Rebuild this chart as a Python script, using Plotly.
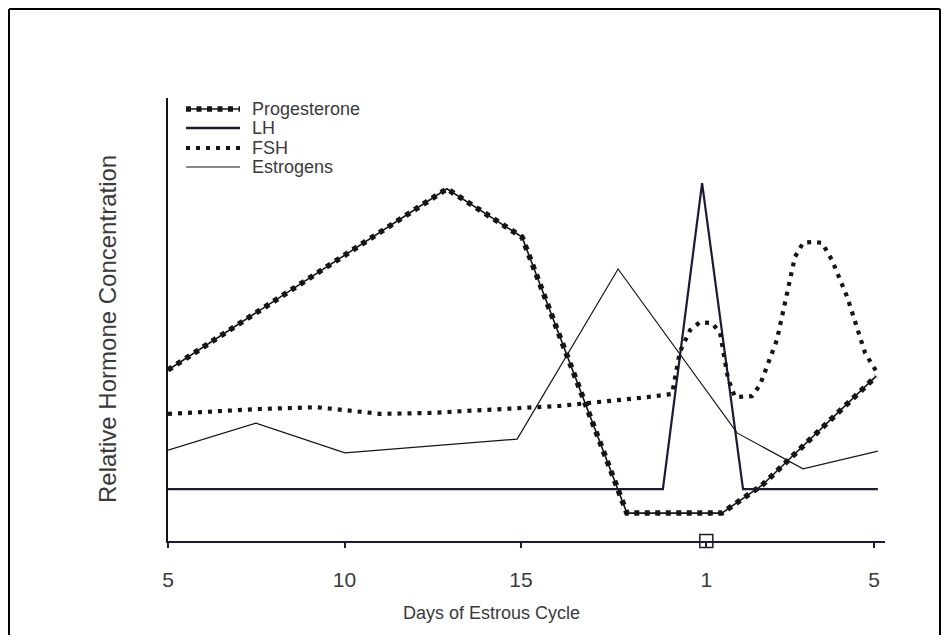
import plotly.graph_objects as go

# ---------------- data (x = position in days, 5 .. next cycle day 5) ----------------
tick_vals = [5, 10, 15, 20.25, 25]
tick_text = ["5", "10", "15", "1", "5"]

prog_x = [5.0, 12.90, 15.03, 18.0, 20.69, 21.83, 25.06]
prog_y = [38.6, 79.5, 68.6, 6.3, 6.3, 12.6, 37.2]

lh_x = [5.0, 19.02, 20.13, 21.29, 25.11]
lh_y = [11.7, 11.7, 80.8, 11.7, 11.7]

fsh_x = [5.0, 7.61, 9.22, 10.01, 11.01, 12.42, 14.12, 16.10, 18.37, 19.28, 19.50,
         19.79, 20.07, 20.41, 20.64, 20.86, 21.06, 21.54, 21.77, 22.25, 22.76,
         22.99, 23.24, 23.53, 23.81, 24.24, 24.75, 25.08]
fsh_y = [28.7, 29.8, 30.2, 29.6, 28.7, 28.9, 29.6, 30.5, 32.3, 33.2, 42.7,
         47.6, 49.4, 49.2, 47.0, 36.8, 32.5, 32.7, 35.2, 45.4, 64.1,
         67.3, 67.5, 67.3, 63.4, 55.1, 42.4, 38.1]

est_x = [5.0, 7.49, 10.01, 14.89, 17.75, 21.12, 22.99, 25.11]
est_y = [20.5, 26.6, 19.9, 23.0, 61.4, 24.4, 16.3, 20.3]

ovulation_x = [20.25]
ovulation_y = [0]

legend_names = ["Progesterone", "LH", "FSH", "Estrogens"]

# ---------------- layout geometry ----------------
# the page body has an 8px margin on every side; keep the figure inside the window
OFF = 8
W, H = 950 - 2 * OFF, 643 - 2 * OFF
PLOT_LEFT, PLOT_RIGHT, PLOT_TOP, PLOT_BOTTOM = 168, 885, 98, 541   # page pixels
L = PLOT_LEFT - OFF
T = PLOT_TOP - OFF
R = W - (PLOT_RIGHT - OFF)
B = H - (PLOT_BOTTOM - OFF)
PW, PH = W - L - R, H - T - B


def pxx(px):
    return (px - PLOT_LEFT) / PW


def pxy(py):
    return (PLOT_BOTTOM - py) / PH


INK = "#151515"
NAVY = "#1b1b33"
TXT = "#3a3a3a"
FONT = "Liberation Sans, Arial, sans-serif"

fig = go.Figure()

# Progesterone: thin line + heavy dots
fig.add_trace(go.Scatter(x=prog_x, y=prog_y, mode="lines",
                         line=dict(color=INK, width=1.6), showlegend=False,
                         hoverinfo="skip"))
fig.add_trace(go.Scatter(x=prog_x, y=prog_y, mode="lines", name="Progesterone",
                         line=dict(color=INK, width=5.5, dash="5px,5.5px"),
                         showlegend=False))
# LH
fig.add_trace(go.Scatter(x=lh_x, y=lh_y, mode="lines", name="LH",
                         line=dict(color=NAVY, width=2.2), showlegend=False))
# FSH
fig.add_trace(go.Scatter(x=fsh_x, y=fsh_y, mode="lines", name="FSH",
                         line=dict(color=INK, width=4.2, dash="4px,6px"),
                         showlegend=False))
# Estrogens
fig.add_trace(go.Scatter(x=est_x, y=est_y, mode="lines", name="Estrogens",
                         line=dict(color=INK, width=1.2), showlegend=False))
# ovulation box on axis
fig.add_trace(go.Scatter(x=ovulation_x, y=ovulation_y, mode="markers",
                         marker=dict(symbol="square-open", size=13,
                                     color=NAVY, line=dict(width=1.5, color=NAVY)),
                         cliponaxis=False, showlegend=False, hoverinfo="skip"))

shapes = []
annotations = []

# manual legend
leg_rows = [109, 128, 148, 167]
lx0, lx1, ltx = 186, 240, 250
for name, py in zip(legend_names, leg_rows):
    y = pxy(py)
    if name == "Progesterone":
        shapes.append(dict(type="line", xref="paper", yref="paper", x0=pxx(lx0), x1=pxx(lx1),
                           y0=y, y1=y, line=dict(color=INK, width=1.6)))
        shapes.append(dict(type="line", xref="paper", yref="paper", x0=pxx(lx0), x1=pxx(lx1),
                           y0=y, y1=y, line=dict(color=INK, width=5.5, dash="5px,5.5px")))
    elif name == "LH":
        shapes.append(dict(type="line", xref="paper", yref="paper", x0=pxx(lx0), x1=pxx(lx1),
                           y0=y, y1=y, line=dict(color=NAVY, width=2.4)))
    elif name == "FSH":
        shapes.append(dict(type="line", xref="paper", yref="paper", x0=pxx(lx0), x1=pxx(lx1),
                           y0=y, y1=y, line=dict(color=INK, width=4.2, dash="4px,6px")))
    else:
        shapes.append(dict(type="line", xref="paper", yref="paper", x0=pxx(lx0), x1=pxx(lx1),
                           y0=y, y1=y, line=dict(color=INK, width=1.2)))
    annotations.append(dict(text=name, xref="paper", yref="paper", x=pxx(ltx), y=y,
                            xanchor="left", yanchor="middle", showarrow=False,
                            font=dict(family=FONT, size=18, color=TXT)))

# outer frame of the scanned figure (kept inside the drawable page area)
fl, fr, ft, fb = OFF + 1, OFF + W - 2, OFF + 1, OFF + H + 20
for x0, y0, x1, y1 in [(fl, ft, fr, ft), (fl, ft, fl, fb), (fr, ft, fr, fb)]:
    shapes.append(dict(type="line", xref="paper", yref="paper",
                       x0=pxx(x0), y0=pxy(y0), x1=pxx(x1), y1=pxy(y1),
                       line=dict(color="black", width=2), layer="below"))

# axis titles
annotations.append(dict(text="Days of Estrous Cycle", xref="paper", yref="paper",
                        x=pxx(491), y=pxy(613), xanchor="center", yanchor="middle",
                        showarrow=False, font=dict(family=FONT, size=18, color=TXT)))
annotations.append(dict(text="Relative Hormone Concentration", xref="paper", yref="paper",
                        x=pxx(107), y=pxy(329), xanchor="center", yanchor="middle",
                        textangle=-90, showarrow=False,
                        font=dict(family=FONT, size=24, color=TXT)))

fig.update_layout(
    width=W, height=H,
    margin=dict(l=L, r=R, t=T, b=B),
    paper_bgcolor="white", plot_bgcolor="white",
    showlegend=False,
    shapes=shapes, annotations=annotations,
    xaxis=dict(range=[5, 5 + PW / 35.3], tickvals=tick_vals, ticktext=tick_text,
               showgrid=False, zeroline=False, showline=True, linecolor=NAVY,
               linewidth=2, ticks="outside", ticklen=5, tickcolor=NAVY, tickwidth=1.5,
               ticklabelstandoff=14,
               tickfont=dict(family=FONT, size=21, color=TXT)),
    yaxis=dict(range=[0, 100], showgrid=False, zeroline=False, showline=True,
               linecolor=INK, linewidth=1.6, showticklabels=False, ticks=""),
)

fig.write_html("out.html")
